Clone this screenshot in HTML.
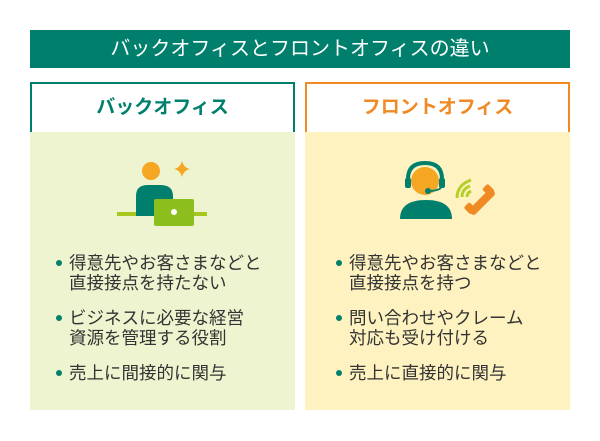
<!DOCTYPE html>
<html><head><meta charset="utf-8"><style>
body{margin:0;width:600px;height:441px;background:#fff;font-family:"Liberation Sans","Noto Sans CJK JP",sans-serif;position:relative;overflow:hidden}
.a{position:absolute}
.title{left:30px;top:30px;width:540px;height:38px;background:#00806c;color:#fff;font-size:20px;text-align:center;line-height:38px}
.hd{top:82px;width:261px;height:48px;background:#fff;text-align:center;line-height:48px;font-size:19px;font-weight:bold}
.bd{top:132px;width:265px;height:278px}
ul{margin:0;padding:0;list-style:none;position:absolute;top:121px;font-size:17.5px;color:#333;line-height:20px;white-space:nowrap}
li{position:relative;padding-left:13px;margin-bottom:15px}
li:before{content:"";position:absolute;left:0;top:7px;width:6px;height:6px;border-radius:50%;background:#00806c}
</style></head><body>
<div class="a title">バックオフィスとフロントオフィスの違い</div>
<div class="a hd" style="left:30px;border:2px solid #00806c;color:#00806c">バックオフィス</div>
<div class="a hd" style="left:305px;border:2px solid #f08a24;color:#f08a24">フロントオフィス</div>
<div class="a bd" style="left:30px;background:#eef4cf">
<svg class="a" style="left:80px;top:20px" width="110" height="80">
<rect x="7" y="60" width="90" height="4" fill="#a6c71e"/>
<circle cx="41" cy="19" r="9" fill="#f5a623"/>
<path d="M26 64 V44 Q26 33 38 33 H50 Q63 33 63 44 V64Z" fill="#00806c"/>
<path d="M72 9 Q74 16 80 17 Q74 18 72 25 Q70 18 64 17 Q70 16 72 9Z" fill="#f5a623"/>
<rect x="44" y="47" width="40" height="27" rx="2" fill="#8cbf1e"/>
<circle cx="64" cy="60" r="3" fill="#fff"/>
</svg>
<ul style="left:26px"><li>得意先やお客さまなどと<br>直接接点を持たない</li><li>ビジネスに必要な経営<br>資源を管理する役割</li><li>売上に間接的に関与</li></ul>
</div>
<div class="a bd" style="left:305px;background:#fdf2c0">
<svg class="a" style="left:90px;top:20px" width="110" height="80">
<path d="M5 67 Q5 48 31 48 Q57 48 57 67Z" fill="#00806c"/>
<circle cx="30" cy="29" r="14" fill="#f5a623"/>
<path d="M13 33 V27 Q13 11 30 11 Q47 11 47 27 V33" stroke="#00806c" stroke-width="4" fill="none"/>
<rect x="10" y="26" width="6" height="10" rx="2" fill="#00806c"/>
<rect x="44" y="26" width="6" height="10" rx="2" fill="#00806c"/>
<path d="M46 36 Q42 39 34 39" stroke="#00806c" stroke-width="2" fill="none"/>
<circle cx="33" cy="39" r="3" fill="#00806c"/>
<g stroke="#b5cf2a" stroke-width="3" fill="none">
<path d="M67 45 Q67 37 75 34"/><path d="M62 46 Q62 33 76 28"/><path d="M72 45 Q72 41 76 39"/>
</g>
<g transform="translate(87,50) rotate(45)">
<rect x="-4" y="-16" width="8" height="32" rx="3" fill="#f08a24"/>
<rect x="-9" y="-17" width="10" height="8" rx="2" fill="#f08a24"/>
<rect x="-9" y="9" width="10" height="8" rx="2" fill="#f08a24"/>
</g>
</svg>
<ul style="left:31px"><li>得意先やお客さまなどと<br>直接接点を持つ</li><li>問い合わせやクレーム<br>対応も受け付ける</li><li>売上に直接的に関与</li></ul>
</div>
</body></html>
